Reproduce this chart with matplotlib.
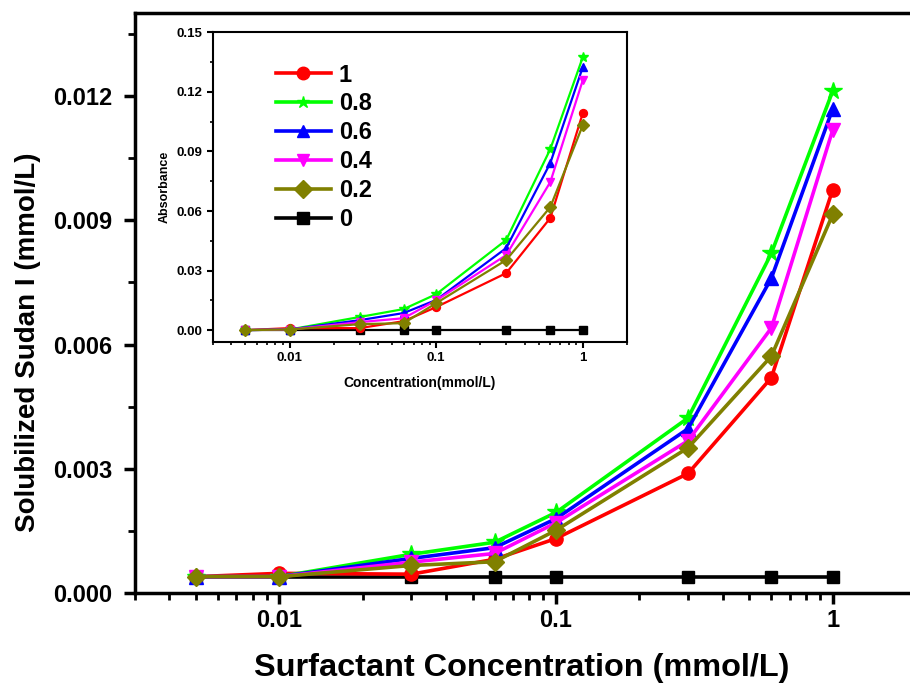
import matplotlib
matplotlib.use('Agg')
import matplotlib.pyplot as plt
from matplotlib.ticker import FuncFormatter, MultipleLocator, LogLocator, NullFormatter

plt.rcParams['font.family'] = ['Liberation Sans', 'DejaVu Sans']
plt.rcParams['font.weight'] = 'bold'

conc = [0.005, 0.01, 0.03, 0.06, 0.1, 0.3, 0.6, 1]
labels = ['1', '0.8', '0.6', '0.4', '0.2', '0']
colors = ['#ff0000', '#00ff00', '#0000ff', '#ff00ff', '#808000', '#000000']
markers = ['o', '*', '^', 'v', 'D', 's']

# solubilized Sudan I (mmol/L)
sol_1 = [0.0004, 0.00048, 0.00046, 0.00082, 0.00132, 0.00289, 0.0052, 0.00974]
sol_08 = [0.0004, 0.0004, 0.00094, 0.00123, 0.00195, 0.00423, 0.0082, 0.01212]
sol_06 = [0.0004, 0.0004, 0.00084, 0.0011, 0.0018, 0.00397, 0.0076, 0.01169]
sol_04 = [0.0004, 0.0004, 0.00075, 0.00096, 0.0017, 0.00368, 0.0064, 0.01118]
sol_02 = [0.0004, 0.0004, 0.00067, 0.00076, 0.00152, 0.00351, 0.00572, 0.00914]
sol_0 = [0.0004, 0.0004, 0.0004, 0.0004, 0.0004, 0.0004, 0.0004, 0.0004]

# absorbance (inset)
abs_1 = [0.0, 0.001, 0.001, 0.0045, 0.0116, 0.0287, 0.0565, 0.1094]
abs_08 = [0.0, 0.0003, 0.0066, 0.0106, 0.0181, 0.0454, 0.0912, 0.1376]
abs_06 = [0.0, 0.0003, 0.005, 0.0086, 0.0152, 0.0413, 0.0842, 0.1326]
abs_04 = [0.0, 0.0003, 0.004, 0.006, 0.015, 0.0378, 0.0746, 0.126]
abs_02 = [0.0, 0.0003, 0.003, 0.0035, 0.0136, 0.0353, 0.062, 0.1033]
abs_0 = [0.0, 0.0, 0.0, 0.0, 0.0, 0.0, 0.0, 0.0]

sol = [sol_1, sol_08, sol_06, sol_04, sol_02, sol_0]
absb = [abs_1, abs_08, abs_06, abs_04, abs_02, abs_0]
msize = [9.5, 13, 10, 10, 9.5, 8.5]

fig = plt.figure(figsize=(9.1, 6.89), dpi=100)
ax = fig.add_axes([0.148, 0.139, 0.8586, 0.842])

order = [5, 0, 1, 2, 3, 4]
for i in order:
    ax.plot(conc, sol[i], color=colors[i], marker=markers[i], ms=msize[i], lw=2.6)

ax.set_xscale('log')
ax.set_xlim(0.003, 2)
ax.set_ylim(0, 0.014)
ax.yaxis.set_major_locator(MultipleLocator(0.003))
ax.yaxis.set_minor_locator(MultipleLocator(0.0015))
ax.yaxis.set_major_formatter(FuncFormatter(lambda v, p: '%.3f' % v))
ax.xaxis.set_major_locator(LogLocator(base=10))
ax.xaxis.set_minor_locator(LogLocator(base=10, subs=range(2, 10)))
ax.xaxis.set_major_formatter(FuncFormatter(lambda v, p: '%g' % v))
ax.xaxis.set_minor_formatter(NullFormatter())
for s in ax.spines.values():
    s.set_linewidth(2.5)
ax.spines['right'].set_visible(False)
ax.tick_params(axis='both', which='major', direction='out', width=2.5, length=8, labelsize=17)
ax.tick_params(axis='y', which='major', pad=8)
ax.tick_params(axis='both', which='minor', direction='out', width=2, length=5)
ax.set_xlabel('Surfactant Concentration (mmol/L)', fontsize=23.4, fontweight='bold')
ax.set_ylabel('Solubilized Sudan I (mmol/L)', fontsize=20, fontweight='bold')
ax.xaxis.set_label_coords(0.4955, -0.103)
ax.yaxis.set_label_coords(-0.12, 0.433)

ins = fig.add_axes([0.234, 0.5036, 0.455, 0.4494])
for i in order:
    ins.plot(conc, absb[i], color=colors[i], marker=markers[i], ms=msize[i] * 0.6, lw=1.6)
ins.set_xscale('log')
ins.set_xlim(0.003, 2)
ins.set_ylim(-0.006, 0.15)
ins.yaxis.set_major_locator(MultipleLocator(0.03))
ins.yaxis.set_minor_locator(MultipleLocator(0.015))
ins.yaxis.set_major_formatter(FuncFormatter(lambda v, p: '%.2f' % v))
ins.xaxis.set_major_locator(LogLocator(base=10))
ins.xaxis.set_minor_locator(LogLocator(base=10, subs=range(2, 10)))
ins.xaxis.set_major_formatter(FuncFormatter(lambda v, p: '%g' % v))
ins.xaxis.set_minor_formatter(NullFormatter())
for s in ins.spines.values():
    s.set_linewidth(1.5)
ins.tick_params(axis='both', which='major', direction='out', width=1.5, length=4, labelsize=9.5)
ins.tick_params(axis='both', which='minor', direction='out', width=1.2, length=2.5)
ins.set_xlabel('Concentration(mmol/L)', fontsize=10, fontweight='bold', labelpad=8)
ins.set_ylabel('Absorbance', fontsize=9, fontweight='bold')

handles = [ins.lines[order.index(i)] for i in range(6)]
leg = ins.legend(handles, labels, loc='upper left', bbox_to_anchor=(0.13, 0.93), frameon=False,
                 prop={'size': 17, 'weight': 'bold'}, handlelength=2.3, labelspacing=0.25,
                 handletextpad=0.35, borderaxespad=0)
for h in leg.legend_handles:
    h.set_linewidth(2.6)
    h.set_markersize(9)

fig.savefig('out.png', dpi=100)
